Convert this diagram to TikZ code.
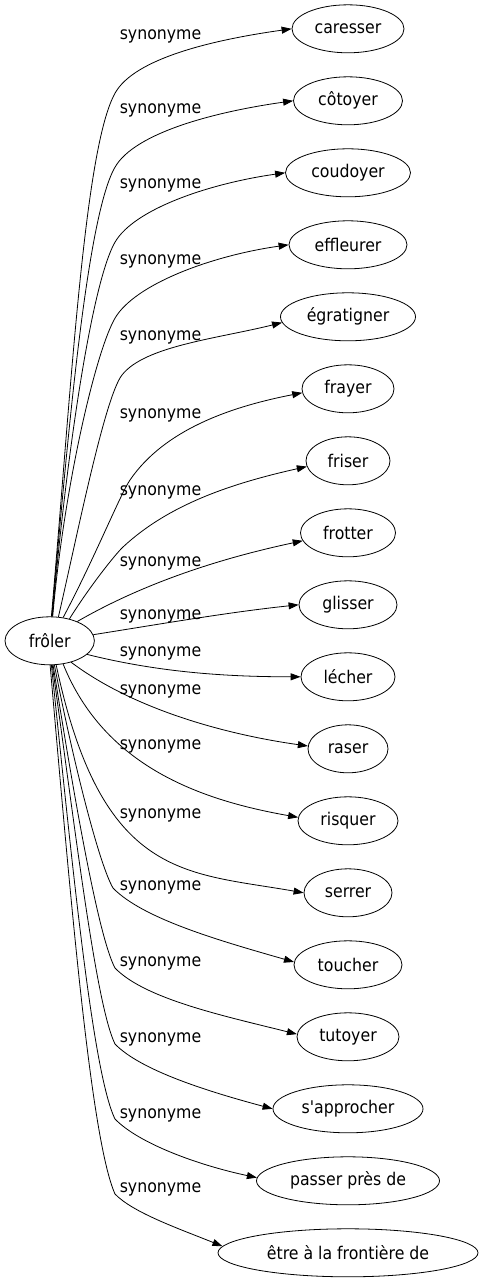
\documentclass[tikz,border=0pt]{standalone}
\usepackage{fontspec}
\setmainfont{DejaVu Sans Condensed}
\newfontfamily\plainfont{DejaVu Sans Condensed}
\usetikzlibrary{arrows.meta,shapes.geometric}
\begin{document}
\begin{tikzpicture}[x=1pt,y=1pt,
  every node/.style={font=\fontsize{17.5}{21}\selectfont},
  word/.style={draw, ellipse, line width=0.8pt, minimum height=48pt, inner sep=0pt, minimum width=#1},
  lab/.style={anchor=base, inner sep=0pt},
  syn/.style={draw, line width=0.8pt, -{Triangle[length=10pt,width=7pt]}}]
\fill[white] (0,0) rectangle (483,-1283);
\useasboundingbox (0,0) rectangle (483,-1283);

\node[word=89.4pt] (fr) at (49.7,-640.8) {frôler};

\node[word=112pt] (n1) at (348,-28.8) {caresser};
\node[word=109pt] (n2) at (348,-100.8) {côtoyer};
\node[word=125pt] (n3) at (348,-172.8) {coudoyer};
\node[word=118pt] (n4) at (348,-244.8) {effleurer};
\node[word=135pt] (n5) at (348,-316.8) {égratigner};
\node[word=92pt] (n6) at (348,-388.8) {frayer};
\node[word=84pt] (n7) at (348,-460.8) {friser};
\node[word=95pt] (n8) at (348,-532.8) {frotter};
\node[word=98pt] (n9) at (348,-604.8) {glisser};
\node[word=94pt] (n10) at (348,-676.8) {lécher};
\node[word=80pt] (n11) at (348,-748.8) {raser};
\node[word=100pt] (n12) at (348,-820.8) {risquer};
\node[word=88pt] (n13) at (348,-892.8) {serrer};
\node[word=108pt] (n14) at (348,-964.8) {toucher};
\node[word=102pt] (n15) at (348,-1036.8) {tutoyer};
\node[word=150pt] (n16) at (348,-1108.8) {s{\plainfont'}approcher};
\node[word=183pt] (n17) at (348,-1180.8) {passer près de};
\node[word=260pt] (n18) at (348,-1252.8) {être à la frontière de};

\node[lab] (l1) at (160.5,-39) {synonyme};
\node[lab] (l2) at (160.5,-113) {synonyme};
\node[lab] (l3) at (160.5,-188) {synonyme};
\node[lab] (l4) at (160.5,-264) {synonyme};
\node[lab] (l5) at (160.5,-340) {synonyme};
\node[lab] (l6) at (160.5,-418) {synonyme};
\node[lab] (l7) at (160.5,-495) {synonyme};
\node[lab] (l8) at (160.5,-566) {synonyme};
\node[lab] (l9) at (160.5,-619) {synonyme};
\node[lab] (l10) at (160.5,-656) {synonyme};
\node[lab] (l11) at (160.5,-694) {synonyme};
\node[lab] (l12) at (160.5,-749) {synonyme};
\node[lab] (l13) at (160.5,-818) {synonyme};
\node[lab] (l14) at (160.5,-890) {synonyme};
\node[lab] (l15) at (160.5,-966) {synonyme};
\node[lab] (l16) at (160.5,-1042) {synonyme};
\node[lab] (l17) at (160.5,-1118) {synonyme};
\node[lab] (l18) at (160.5,-1192) {synonyme};

\draw[syn] (fr.86) .. controls +(85:228) and +(236:58) .. (117,-90) .. controls +(56:41) and +(188:72) .. (n1.west);
\draw[syn] (fr.85) .. controls +(85:197) and +(235:50) .. (117,-164) .. controls +(55:41) and +(188:73) .. (n2.west);
\draw[syn] (fr.84) .. controls +(85:165) and +(235:42) .. (117,-239) .. controls +(55:40) and +(188:71) .. (n3.west);
\draw[syn] (fr.83) .. controls +(85:133) and +(235:34) .. (117,-315) .. controls +(55:41) and +(188:73) .. (n4.west);
\draw[syn] (fr.70) .. controls +(77:83) and +(232:28) .. (122,-375) .. controls +(52:37) and +(194:66) .. (n5.185);
\draw[syn] (fr.60) .. controls +(62:66) and +(235.6:17) .. (130,-480) .. controls +(55.6:60) and +(191:75) .. (n6.185);
\draw[syn] (fr.48) .. controls +(58:39) and +(223:10) .. (123,-547) .. controls +(43:62) and +(192.6:78) .. (n7.188);
\draw[syn] (fr.35) .. controls +(30:80) and +(192:80) .. (n8.190);
\draw[syn] (fr.8) .. controls +(9:70) and +(186:70) .. (n9.west);
\draw[syn] (fr.-20) .. controls +(-14:70) and +(180:80) .. (n10.west);
\draw[syn] (fr.-45) .. controls +(-37:80) and +(172:80) .. (n11.176);
\draw[syn] (fr.-60) .. controls +(-68:110) and +(170:100) .. (n12.176);
\draw[syn] (fr.-75) .. controls +(-78:220) and +(170:120) .. (n13.west);
\draw[syn] (fr.-79) .. controls +(-79:99) and +(120:28) .. (113,-888) .. controls +(-46:43) and +(164:76) .. (n14.177);
\draw[syn] (fr.-82) .. controls +(-81:132) and +(118:36) .. (115,-968) .. controls +(-46:43) and +(166:76) .. (n15.177);
\draw[syn] (fr.-84) .. controls +(-82:165) and +(116:44) .. (115,-1044) .. controls +(-46:37) and +(165:66) .. (n16.west);
\draw[syn] (fr.-86) .. controls +(-84:196) and +(116:52) .. (115,-1119) .. controls +(-46:34) and +(168:60) .. (n17.178);
\draw[syn] (fr.-89) .. controls +(-85:229) and +(114:60) .. (115,-1194) .. controls +(-46:26) and +(158:47) .. (n18.177);
\end{tikzpicture}
\end{document}
